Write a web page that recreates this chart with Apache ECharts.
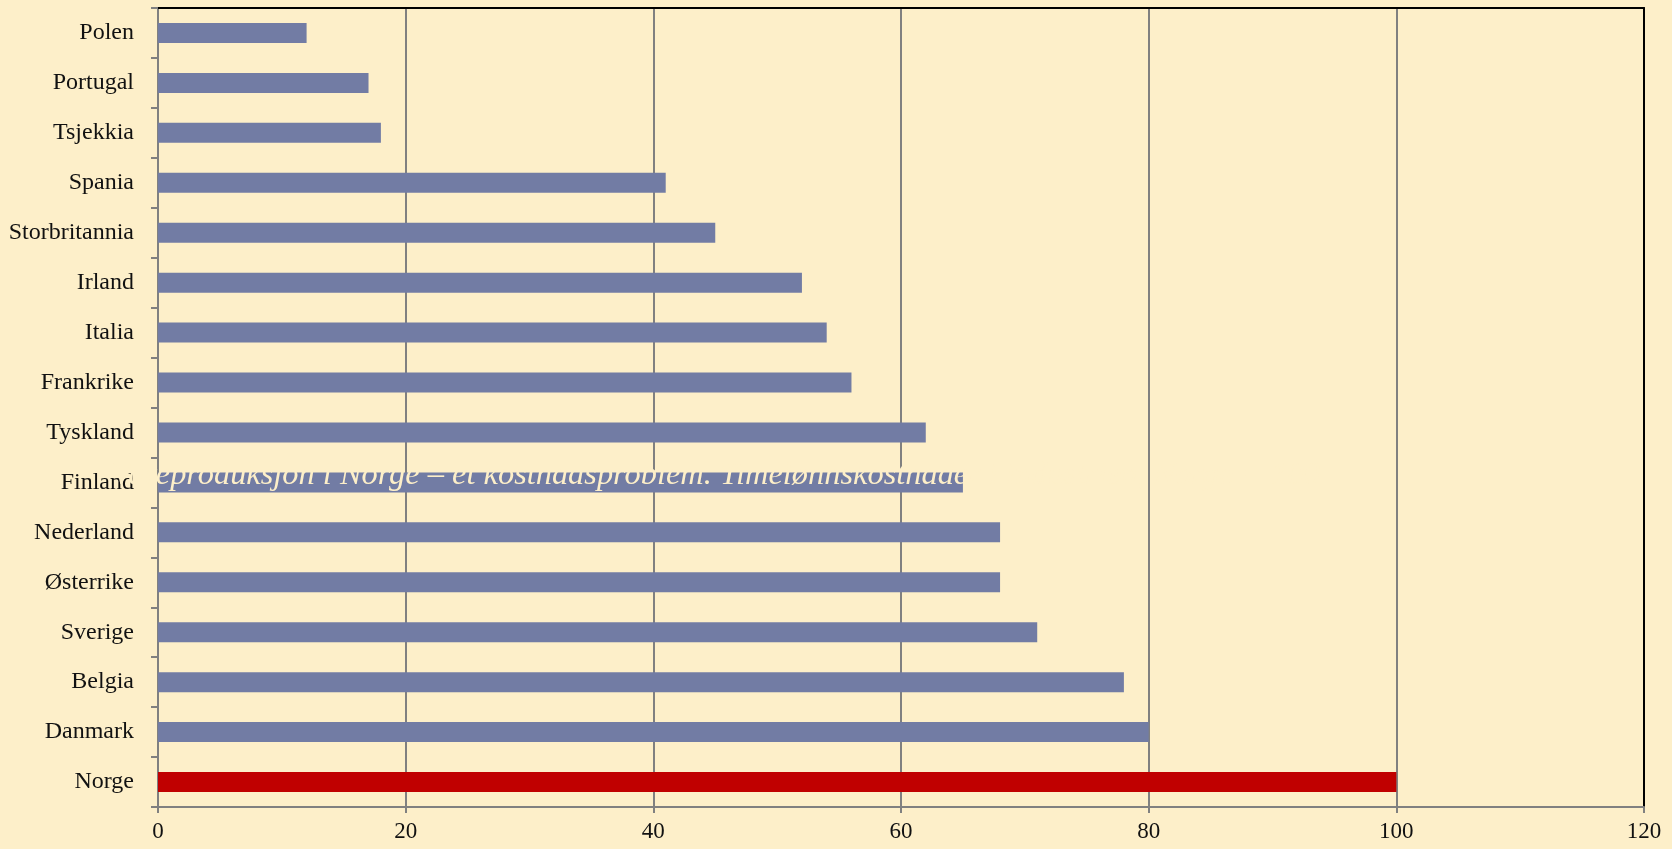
<!DOCTYPE html>
<html>
<head>
<meta charset="utf-8">
<script src="https://cdn.jsdelivr.net/npm/echarts@6/dist/echarts.min.js"></script>
<style>
html,body{margin:0;padding:0;background:#FDEFC9;}
#chart{width:1672px;height:849px;}
</style>
</head>
<body>
<div id="chart"></div>
<script>
// Data (top to bottom)
const categories = ["Polen","Portugal","Tsjekkia","Spania","Storbritannia","Irland","Italia","Frankrike","Tyskland","Finland","Nederland","Østerrike","Sverige","Belgia","Danmark","Norge"];
const values = [12,17,18,41,45,52,54,56,62,65,68,68,71,78,80,100];
const highlight = "Norge";
const xTicks = {min:0, max:120, interval:20};
const hiddenTitle = "Vareproduksjon i Norge – et kostnadsproblem. Timelønnskostnader i industrien, Norge = 100";

const BG = "#FDEFC9";
const BAR = "#727CA4";
const RED = "#C00000";
const GRAY = "#808080";
const FONT = "'Liberation Serif', 'DejaVu Serif', serif";

const chart = echarts.init(document.getElementById('chart'));
chart.setOption({
  backgroundColor: BG,
  animation: false,
  grid: {left:158, right:28, top:8, bottom:42, containLabel:false},
  xAxis: [{
    type:'value', min:xTicks.min, max:xTicks.max, interval:xTicks.interval,
    position:'bottom',
    axisLine:{show:true, onZero:false, lineStyle:{color:GRAY, width:2}},
    axisTick:{show:true, length:6, lineStyle:{color:GRAY, width:2}},
    axisLabel:{color:'#111', fontFamily:FONT, fontSize:23, margin:13},
    splitLine:{show:true, lineStyle:{color:GRAY, width:2}}
  },{
    type:'value', min:xTicks.min, max:xTicks.max, interval:xTicks.interval,
    position:'top',
    axisLine:{show:true, onZero:false, lineStyle:{color:'#000', width:2}},
    axisTick:{show:false}, axisLabel:{show:false}, splitLine:{show:false}
  }],
  yAxis: [{
    type:'category', data:categories, inverse:true,
    axisLine:{show:true, onZero:false, lineStyle:{color:GRAY, width:2}},
    axisTick:{show:true, length:7, lineStyle:{color:GRAY, width:2}},
    axisLabel:{color:'#111', fontFamily:FONT, fontSize:24, margin:24},
    splitLine:{show:false}
  },{
    type:'category', data:categories, inverse:true, position:'right',
    axisLine:{show:true, onZero:false, lineStyle:{color:'#000', width:2}},
    axisTick:{show:false}, axisLabel:{show:false}, splitLine:{show:false}
  }],
  series: [{
    type:'bar',
    xAxisIndex:0, yAxisIndex:0,
    barWidth:20,
    data: categories.map((c,i)=>({value:values[i], itemStyle:{color: c===highlight ? RED : BAR}})),
    z:3
  }],
  graphic: [{
    type:'text',
    left:112, top:459,
    z:100,
    style:{
      text: hiddenTitle,
      fill: BG,
      font: "italic 32.4px 'Liberation Serif', serif"
    }
  }]
});
</script>
</body>
</html>
